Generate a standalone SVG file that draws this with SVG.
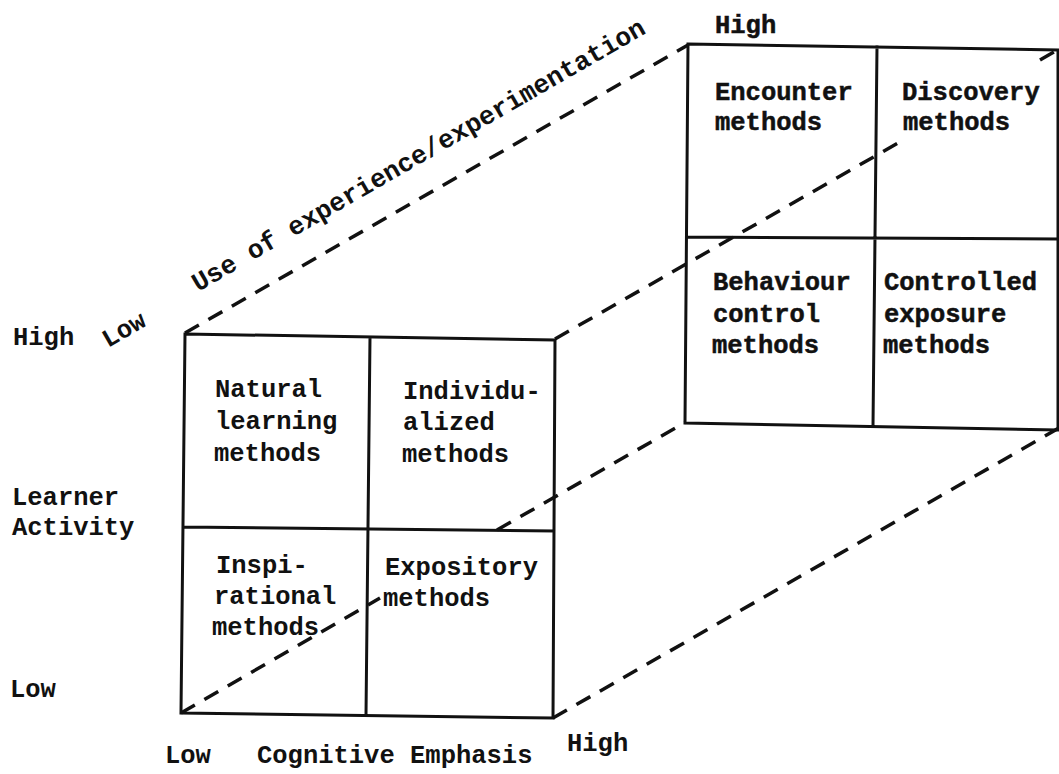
<svg xmlns="http://www.w3.org/2000/svg" width="1059" height="774" viewBox="0 0 1059 774">
<style>
text{font-family:"Liberation Mono","Courier New",monospace;font-size:25.5px;font-weight:bold;fill:#111}
.back text{stroke:#111;stroke-width:0.5px}
.grid{fill:none;stroke:#111;stroke-width:3;stroke-linecap:square}
.dash{fill:none;stroke:#111;stroke-width:3.5;stroke-dasharray:16 11}
</style>
<rect width="1059" height="774" fill="#fff"/>
<g id="connectors">
<line class="dash" x1="185" y1="333" x2="688" y2="45"/>
<line class="dash" x1="555" y1="339" x2="898" y2="143"/>
<line class="dash" x1="1040" y1="60" x2="1059" y2="49"/>
<line class="dash" x1="181" y1="713" x2="380" y2="598"/>
<line class="dash" x1="497" y1="530" x2="686" y2="422"/>
<line class="dash" x1="553" y1="718" x2="1059" y2="428"/>
</g>
<g id="front-grid">
<path class="grid" d="M185 334 L555 340 L553 718 L181 713 Z M370 337 L366 715 M183 527 L554 531"/>
</g>
<g id="back-grid">
<path class="grid" d="M688 44 L1058 50 L1058 430 L685 423 Z M877 47 L873 426 M687 237 L1058 239"/>
</g>
<g id="natural">
<text x="215" y="397">Natural</text>
<text x="215" y="429">learning</text>
<text x="214" y="461">methods</text>
</g>
<g id="individualized">
<text x="403" y="399">Individu-</text>
<text x="403" y="430">alized</text>
<text x="402" y="462">methods</text>
</g>
<g id="inspirational">
<text x="216" y="573">Inspi-</text>
<text x="214" y="604">rational</text>
<text x="212" y="635">methods</text>
</g>
<g id="expository">
<text x="385" y="575">Expository</text>
<text x="383" y="606">methods</text>
</g>
<g class="back">
<g id="encounter">
<text x="715" y="100">Encounter</text>
<text x="715" y="130">methods</text>
</g>
<g id="discovery">
<text x="902" y="100">Discovery</text>
<text x="903" y="130">methods</text>
</g>
<g id="behaviour">
<text x="713" y="290">Behaviour</text>
<text x="713" y="322">control</text>
<text x="712" y="353">methods</text>
</g>
<g id="controlled">
<text x="884" y="290">Controlled</text>
<text x="884" y="322">exposure</text>
<text x="883" y="353">methods</text>
</g>
<text x="715" y="33">High</text>
</g>
<g id="axis-labels">
<text x="13" y="345">High</text>
<text transform="translate(108,348) rotate(-30)">Low</text>
<text transform="translate(198,292) rotate(-30)" style="font-size:26.2px">Use of experience/experimentation</text>
<text x="12" y="505">Learner</text>
<text x="12" y="535">Activity</text>
<text x="10" y="697">Low</text>
<text x="165" y="763">Low</text>
<text x="257" y="763">Cognitive Emphasis</text>
<text x="567" y="751">High</text>
</g>
</svg>
